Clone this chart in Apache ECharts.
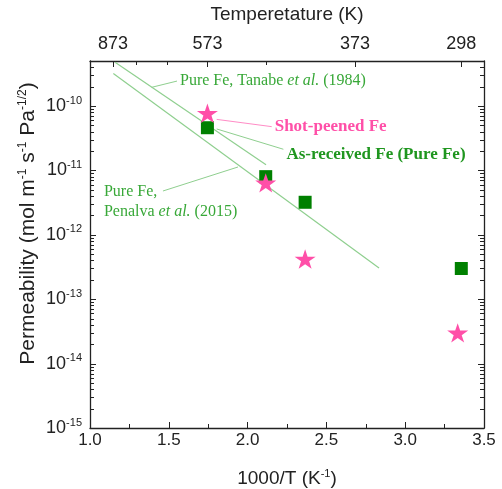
<!DOCTYPE html>
<html>
<head>
<meta charset="UTF-8">
<title>Permeability</title>
<script src="https://cdn.jsdelivr.net/npm/echarts@6.0.0/dist/echarts.min.js"></script>
<style>
  html, body { margin: 0; padding: 0; background: #fff; }
  #myChart { width: 502px; height: 489px; }
</style>
</head>
<body>
<div id="myChart"></div>
<script>
// measured points, x = 1000/T, y = permeability
var asReceivedX = [1.745, 2.115, 2.365, 3.356];
var asReceivedY = [4.6e-11, 8.0e-12, 3.2e-12, 3.0e-13];
var shotPeenedX = [1.745, 2.115, 2.365, 3.333];
var shotPeenedY = [7.7e-11, 6.4e-12, 4.2e-13, 3.0e-14];

// literature fits (end points of straight lines)
var tanabeX = [1.159, 2.117];
var tanabeY = [4.8e-10, 1.22e-11];
var penalvaX = [1.148, 2.834];
var penalvaY = [3.2e-10, 3.05e-13];

// tick labels
var tempMajor = [873, 573, 373, 298];
var tempMinor = [773, 673, 473];
var yDecades = [-15, -14, -13, -12, -11, -10];

var xMin = 1, xMax = 3.5;
var yMin = 1e-15, yMax = 5e-10;

var green = '#008000';
var pink = '#ff4fa8';
var lineGreen = '#8fcf8f';
var textGreen = '#38a838';
var axisColor = '#222';
var sans = 'Liberation Sans, Arial, sans-serif';
var serif = 'Liberation Serif, Times New Roman, serif';

var starPath = 'path://M50,0 L61.8,35.3 L100,35.3 L69.1,57.1 L80.9,92.7 L50,70.9 L19.1,92.7 L30.9,57.1 L0,35.3 L38.2,35.3 Z';

function zip(xs, ys) {
  var out = [];
  for (var i = 0; i < xs.length; i++) out.push([xs[i], ys[i]]);
  return out;
}

var decadeVals = yDecades.map(function (e) { return Math.pow(10, e); });

// tick list for the frame: [side, value, length]; side 1 = top, 2 = left, 3 = right
var frameTicks = [];
tempMajor.forEach(function (t) { frameTicks.push([1, 1000 / t, 6]); });
tempMinor.forEach(function (t) { frameTicks.push([1, 1000 / t, 4]); });
yDecades.forEach(function (e) {
  [2, 3].forEach(function (side) {
    frameTicks.push([side, Math.pow(10, e), 6]);
    for (var k = 2; k <= 9; k++) {
      var v = k * Math.pow(10, e);
      if (v < yMax * 0.999) frameTicks.push([side, v, 4]);
    }
  });
});

var supRich = {
  b: { fontSize: 18, fontFamily: sans, color: axisColor, lineHeight: 22 },
  s: { fontSize: 11, fontFamily: sans, color: axisColor, lineHeight: 11, verticalAlign: 'top' }
};

function yLabel(v) {
  var e = Math.round(Math.log10(v));
  return '{b|10}{s|' + e + '}';
}

// annotation leader lines [from, to] in data space, text drawn near "to"
var annotations = [
  { from: [1.391, 1.95e-10], to: [1.552, 2.44e-10], text: '{n|Pure Fe, Tanabe }{i|et al.}{n| (1984)}', color: textGreen, pos: 'right', off: [0, 0], bold: false },
  { from: [1.804, 6.2e-11], to: [2.153, 4.78e-11], text: 'Shot-peened Fe', color: pink, pos: 'right', off: [0, 0], bold: true },
  { from: [1.804, 4.4e-11], to: [2.227, 2.13e-11], text: 'As-received Fe (Pure Fe)', color: '#1f961f', pos: 'right', off: [0, 5], bold: true },
  { from: [1.939, 1.13e-11], to: [1.463, 4.79e-12], text: '{n|Pure Fe,}\n{n|Penalva }{i|et al.}{n| (2015)}', color: textGreen, pos: 'left', off: [-56, 11], bold: false }
];

var leaderSeries = annotations.map(function (a) {
  var italicRich = {
    n: { fontFamily: serif, fontSize: 16, color: a.color, lineHeight: 20 },
    i: { fontFamily: serif, fontSize: 16, color: a.color, fontStyle: 'italic', lineHeight: 20 }
  };
  return {
    type: 'line',
    data: [a.from, a.to],
    symbol: 'none',
    silent: true,
    z: 1,
    lineStyle: { color: a.color === pink ? '#ff8cc6' : lineGreen, width: 1 },
    markPoint: {
      symbol: 'circle',
      symbolSize: 0,
      data: [{ coord: a.to }],
      label: {
        show: true,
        position: a.pos,
        distance: 3,
        offset: a.off,
        formatter: a.text,
        color: a.color,
        fontFamily: serif,
        fontSize: a.bold ? 17 : 16,
        fontWeight: a.bold ? 'bold' : 'normal',
        align: 'left',
        rich: a.bold ? {} : italicRich
      }
    }
  };
});

var myChart = echarts.init(document.getElementById('myChart'));

function yLogAxis(pos, showLabel) {
  return {
    type: 'log',
    logBase: 10,
    min: yMin,
    max: yMax,
    position: pos,
    splitLine: { show: false },
    axisLine: { show: true, lineStyle: { color: axisColor, width: 1.3 } },
    axisTick: { show: false },
    minorTick: { show: false },
    axisLabel: showLabel ? {
      show: true, customValues: decadeVals, formatter: yLabel, margin: 8, rich: supRich
    } : { show: false }
  };
}

var yLeft = yLogAxis('left', true);
yLeft.name = '{n|Permeability (mol m}{s|-1}{n| s}{s|-1}{n| Pa}{s|-1/2}{n|)}';
yLeft.nameLocation = 'middle';
yLeft.nameRotate = 90;
yLeft.nameGap = 51;
yLeft.nameMoveOverlap = false;
yLeft.nameTextStyle = {
  padding: [0, 0, 0, 42],
  rich: {
    n: { fontSize: 21, fontFamily: sans, color: axisColor, lineHeight: 22 },
    s: { fontSize: 12, fontFamily: sans, color: axisColor, lineHeight: 12, verticalAlign: 'top' }
  }
};

var tempMajorX = tempMajor.map(function (t) { return 1000 / t; });

var option = {
  animation: false,
  backgroundColor: '#fff',
  grid: { left: 90, right: 18, top: 61, bottom: 61, containLabel: false, outerBoundsMode: 'none' },
  xAxis: [
    {
      type: 'value', position: 'bottom', min: xMin, max: xMax, interval: 0.5,
      splitLine: { show: false },
      axisLine: { show: true, onZero: false, lineStyle: { color: axisColor, width: 1.3 } },
      axisTick: { show: true, inside: false, length: -6, lineStyle: { color: axisColor, width: 1 } },
      minorTick: { show: true, splitNumber: 2, length: -4, lineStyle: { color: axisColor, width: 1 } },
      axisLabel: {
        formatter: function (v) { return v.toFixed(1); },
        fontSize: 17, fontFamily: sans, color: axisColor, margin: 4
      },
      name: '{n|1000/T (K}{s|-1}{n|)}',
      nameLocation: 'middle',
      nameGap: 40,
      nameTextStyle: {
        rich: {
          n: { fontSize: 19, fontFamily: sans, color: axisColor, lineHeight: 22 },
          s: { fontSize: 11, fontFamily: sans, color: axisColor, lineHeight: 11, verticalAlign: 'top' }
        }
      }
    },
    {
      type: 'value', position: 'top', min: xMin, max: xMax,
      splitLine: { show: false },
      axisLine: { show: true, onZero: false, lineStyle: { color: axisColor, width: 1.3 } },
      axisTick: { show: false },
      axisLabel: {
        customValues: tempMajorX,
        formatter: function (v) { return String(Math.round(1000 / v)); },
        fontSize: 18, fontFamily: sans, color: axisColor, margin: 8
      },
      name: 'Temperetature (K)',
      nameLocation: 'middle',
      nameGap: 37,
      nameTextStyle: { fontSize: 19, fontFamily: sans, color: axisColor }
    }
  ],
  yAxis: [
    yLeft,
    yLogAxis('right', false)
  ],
  series: [
    {
      // inward ticks on the top, left and right frame edges
      type: 'custom',
      data: frameTicks,
      silent: true,
      clip: false,
      z: 5,
      renderItem: function (params, api) {
        var side = api.value(0), v = api.value(1), len = api.value(2);
        var p, r;
        if (side === 1) {
          p = api.coord([v, yMax]);
          r = { x: Math.round(p[0]), y: p[1], width: 1, height: len };
        } else if (side === 2) {
          p = api.coord([xMin, v]);
          r = { x: p[0], y: Math.round(p[1]), width: len, height: 1 };
        } else {
          p = api.coord([xMax, v]);
          r = { x: p[0] - len, y: Math.round(p[1]), width: len, height: 1 };
        }
        return {
          type: 'rect',
          shape: r,
          style: { fill: axisColor }
        };
      }
    },
    {
      name: 'Pure Fe, Tanabe et al. (1984)',
      type: 'line', data: zip(tanabeX, tanabeY), symbol: 'none', silent: true,
      lineStyle: { color: lineGreen, width: 1.2 }, z: 2
    },
    {
      name: 'Pure Fe, Penalva et al. (2015)',
      type: 'line', data: zip(penalvaX, penalvaY), symbol: 'none', silent: true,
      lineStyle: { color: lineGreen, width: 1.2 }, z: 2
    },
    {
      name: 'As-received Fe (Pure Fe)',
      type: 'scatter', data: zip(asReceivedX, asReceivedY),
      symbol: 'rect', symbolSize: 13,
      itemStyle: { color: green, opacity: 1 }, z: 3
    },
    {
      name: 'Shot-peened Fe',
      type: 'scatter', data: zip(shotPeenedX, shotPeenedY),
      symbol: starPath, symbolKeepAspect: true, symbolSize: 21,
      itemStyle: { color: pink, opacity: 1 }, z: 4
    }
  ].concat(leaderSeries)
};

myChart.setOption(option);
</script>
</body>
</html>
